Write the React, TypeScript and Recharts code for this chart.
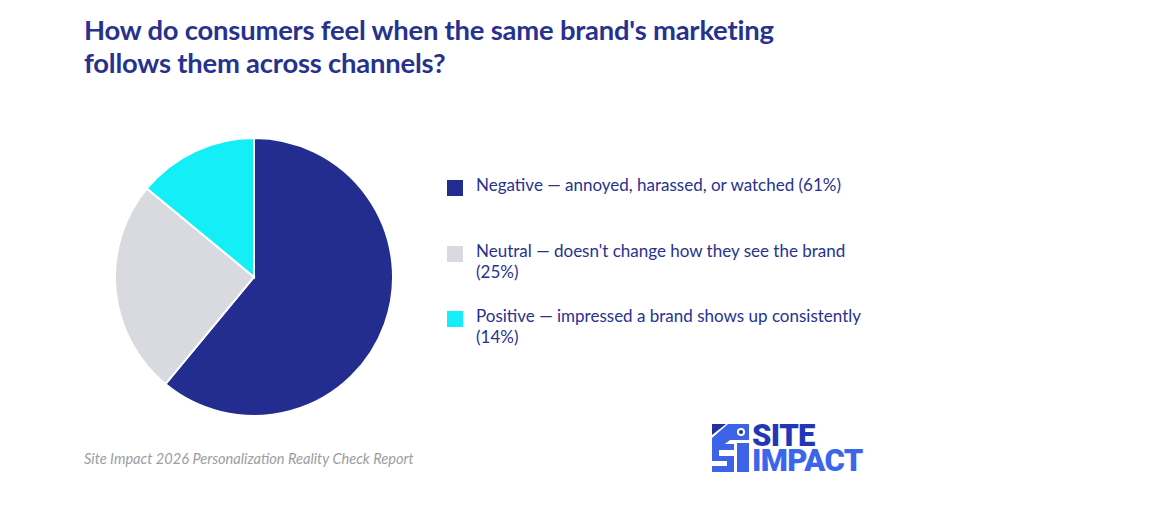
import React from "react";
import { Cell, Legend, Pie, PieChart } from "recharts";

const categories = [
  "Negative — annoyed, harassed, or watched (61%)",
  "Neutral — doesn't change how they see the brand (25%)",
  "Positive — impressed a brand shows up consistently (14%)",
];
const shares = [61, 25, 14];
const colors = ["#222d8f", "#d8dadf", "#14eef6"];

const data = categories.map((name, i) => ({ name, value: shares[i] }));

const textColor = "#27328f";

function LegendBox() {
  return (
    <div style={{ fontFamily: "Lato, sans-serif", fontSize: 17, color: textColor }}>
      {data.map((d, i) => (
        <div key={d.name} style={{ display: "flex", alignItems: "flex-start", marginBottom: i === 0 ? 44 : 23 }}>
          <div style={{ width: 16, height: 16, background: colors[i], marginTop: 6, marginRight: 13, flex: "none" }} />
          <div style={{ width: 392, lineHeight: "21px" }}>{d.name}</div>
        </div>
      ))}
    </div>
  );
}

function Logo() {
  const font = { fontFamily: "Roboto, sans-serif", fontWeight: 900, fontSize: 31, letterSpacing: -0.6, lineHeight: "24px" };
  return (
    <div style={{ position: "absolute", left: 712, top: 423, width: 155, height: 52 }}>
      <svg width={38} height={49} style={{ position: "absolute", left: 0, top: 1 }}>
        <path d="M0 0 L14 0 L0 11 Z" fill="#23309e" />
        <path d="M16 0 L37 0 L37 16 L18 16 L0 30 L0 14 Z" fill="#3c63e8" />
        <rect x={0} y={20} width={22} height={28} fill="#3c63e8" />
        <rect x={7} y={26} width={15} height={6} fill="#fff" />
        <rect x={0} y={37} width={15} height={5} fill="#fff" />
        <rect x={25} y={19} width={12} height={29} fill="#3c63e8" />
        <circle cx={29} cy={8} r={4} fill="#fff" />
        <circle cx={29} cy={8} r={2} fill="#23309e" />
      </svg>
      <div style={{ position: "absolute", left: 40, top: 1, color: "#2237b8", ...font }}>SITE</div>
      <div style={{ position: "absolute", left: 40, top: 26, color: "#3b66ec", ...font }}>IMPACT</div>
    </div>
  );
}

export default function App() {
  return (
    <div style={{ position: "absolute", left: 0, top: 0, width: 1176, height: 515, background: "#fff", overflow: "hidden" }}>
      <div
        style={{
          position: "absolute",
          left: 84,
          top: 13,
          fontFamily: "Lato, sans-serif",
          fontWeight: 700,
          fontSize: 27.4,
          lineHeight: "33px",
          color: textColor,
          letterSpacing: -0.2,
        }}
      >
        How do consumers feel when the same brand's marketing
        <br />
        follows them across channels?
      </div>
      <PieChart width={1176} height={515} margin={{ top: 0, right: 0, bottom: 0, left: 0 }} style={{ position: "absolute", left: 0, top: 0 }}>
        <Pie
          data={data}
          dataKey="value"
          nameKey="name"
          cx={254}
          cy={277}
          outerRadius={139}
          startAngle={90}
          endAngle={-270}
          stroke="#ffffff"
          strokeWidth={2}
          isAnimationActive={false}
        >
          {data.map((d, i) => (
            <Cell key={d.name} fill={colors[i]} />
          ))}
        </Pie>
        <Legend
          content={() => <LegendBox />}
          wrapperStyle={{ position: "absolute", left: 447, top: 174, width: 460, bottom: "auto" }}
        />
      </PieChart>
      <div
        style={{
          position: "absolute",
          left: 84,
          top: 450,
          fontFamily: "Lato, sans-serif",
          fontStyle: "italic",
          fontSize: 14.6,
          color: "#9b9da4",
        }}
      >
        Site Impact 2026 Personalization Reality Check Report
      </div>
      <Logo />
    </div>
  );
}
